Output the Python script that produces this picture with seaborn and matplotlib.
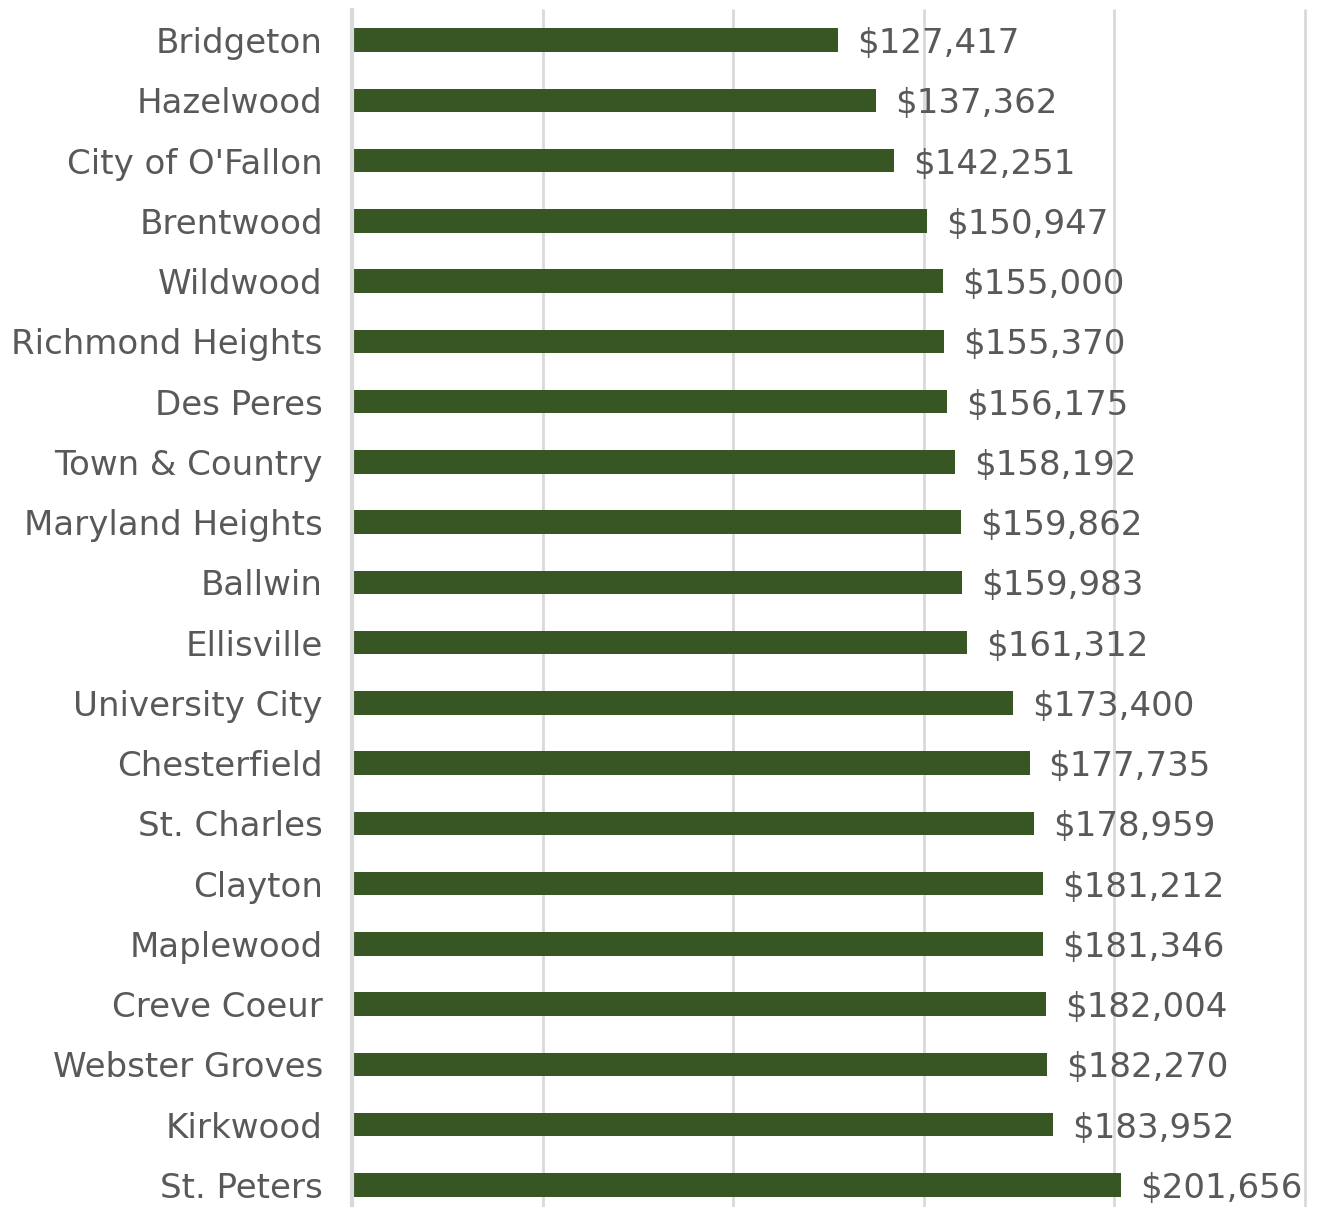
import matplotlib
matplotlib.use("Agg")
import matplotlib.pyplot as plt
import seaborn as sns
import pandas as pd

cities = ["Bridgeton", "Hazelwood", "City of O'Fallon", "Brentwood", "Wildwood",
          "Richmond Heights", "Des Peres", "Town & Country", "Maryland Heights",
          "Ballwin", "Ellisville", "University City", "Chesterfield", "St. Charles",
          "Clayton", "Maplewood", "Creve Coeur", "Webster Groves", "Kirkwood",
          "St. Peters"]
values = [127417, 137362, 142251, 150947, 155000, 155370, 156175, 158192, 159862,
          159983, 161312, 173400, 177735, 178959, 181212, 181346, 182004, 182270,
          183952, 201656]

df = pd.DataFrame({"city": cities, "value": values})

sns.set_style("white")
plt.rcParams["font.family"] = ["DejaVu Sans"]

fig = plt.figure(figsize=(13.17, 12.07), dpi=100)
ax = fig.add_axes([352 / 1317, -8 / 1207, 953 / 1317, 1205 / 1207])

sns.barplot(data=df, x="value", y="city", color="#375623", width=0.39,
            saturation=1, ax=ax, edgecolor="none")

ax.set_xlim(0, 250000)
ax.set_ylim(19.5, -0.5)
ax.set_xticks([0, 50000, 100000, 150000, 200000, 250000])
ax.xaxis.grid(True, color="#D9D9D9", linewidth=2)
for gl in ax.get_xgridlines():
    gl.set_clip_on(False)
ax.set_axisbelow(True)
ax.tick_params(axis="x", length=0, labelbottom=False)
ax.tick_params(axis="y", length=0, pad=21, labelsize=24.5, labelcolor="#595959")
for lbl in ax.get_yticklabels():
    lbl.set_verticalalignment("center_baseline")
ax.set_xlabel("")
ax.set_ylabel("")
for s in ["top", "right", "bottom"]:
    ax.spines[s].set_visible(False)
ax.spines["left"].set_color("#D9D9D9")
ax.spines["left"].set_linewidth(3)

for i, v in enumerate(values):
    ax.text(v + 5000, i, f"${v:,}", va="center_baseline", ha="left",
            fontsize=24.5, color="#595959")

fig.savefig("out.png", dpi=100)
